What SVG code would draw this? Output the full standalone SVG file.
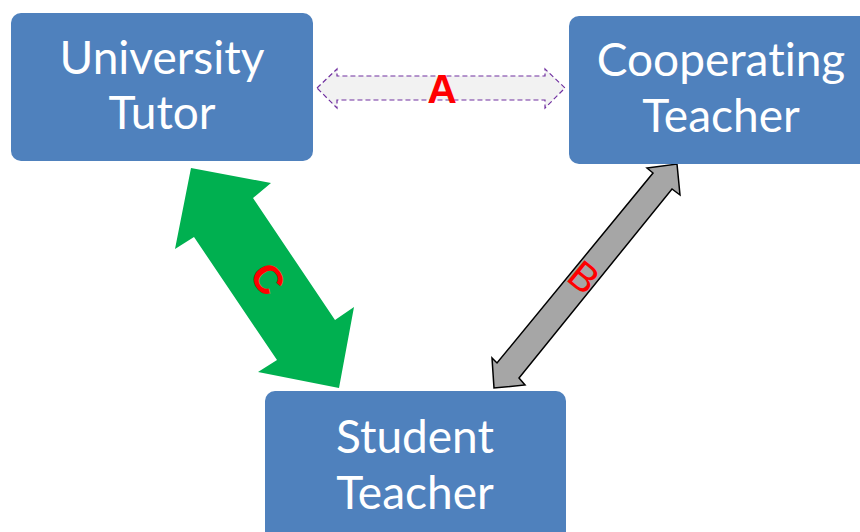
<svg xmlns="http://www.w3.org/2000/svg" width="860" height="532" viewBox="0 0 860 532">
  <style>
    .box { fill: #4F81BD; }
    .lbl { font-family: Lato, "Open Sans", "Liberation Sans", sans-serif; font-size: 46px; fill: #FFFFFF; text-anchor: middle; font-variant-ligatures: none; }
    .tag { font-family: "Liberation Sans", Arial, sans-serif; fill: #FF0000; text-anchor: middle; }
  </style>
  <rect width="860" height="532" fill="#FFFFFF"/>

  <g id="connectors">
    <!-- A: dashed two-way link between the tutor and the cooperating teacher -->
    <g id="link-a">
      <polygon points="317,88 337,69 337,76 545,76 545,69 565,88 545,108 545,100 337,100 337,108"
               fill="#F2F2F2" stroke="#7030A0" stroke-width="1.2" stroke-dasharray="5,3"/>
      <text class="tag" x="442" y="103" font-size="41" font-weight="bold">A</text>
    </g>
    <!-- B: grey two-way link between the cooperating and student teachers -->
    <g id="link-b">
      <polygon points="677,164 680,195 672,189 519,378 525,385 494,388 492,358 497,363 653,173 647,168"
               fill="#A6A6A6" stroke="#000000" stroke-width="1.5" stroke-linejoin="miter"/>
      <text class="tag" font-size="40" transform="translate(584,277) rotate(39)" y="14">B</text>
    </g>
    <!-- C: wide green two-way link between the tutor and the student teacher -->
    <g id="link-c">
      <polygon points="191,168 271,183 253,198 335,320 354,307 339,388 258,372 277,360 194,237 175,249"
               fill="#00B050"/>
      <text class="tag" font-size="40" font-weight="bold" transform="translate(268,279) rotate(56)" y="14">C</text>
    </g>
  </g>

  <g id="university-tutor">
    <rect class="box" x="11" y="13" width="302" height="148" rx="10"/>
    <text class="lbl" x="162" y="74">University</text>
    <text class="lbl" x="162" y="129">Tutor</text>
  </g>

  <g id="cooperating-teacher">
    <rect class="box" x="569" y="16" width="304" height="148" rx="10"/>
    <text class="lbl" x="721" y="76">Cooperating</text>
    <text class="lbl" x="721" y="132">Teacher</text>
  </g>

  <g id="student-teacher">
    <rect class="box" x="265" y="391" width="301" height="152" rx="10"/>
    <text class="lbl" x="415" y="453">Student</text>
    <text class="lbl" x="415" y="509">Teacher</text>
  </g>
</svg>
